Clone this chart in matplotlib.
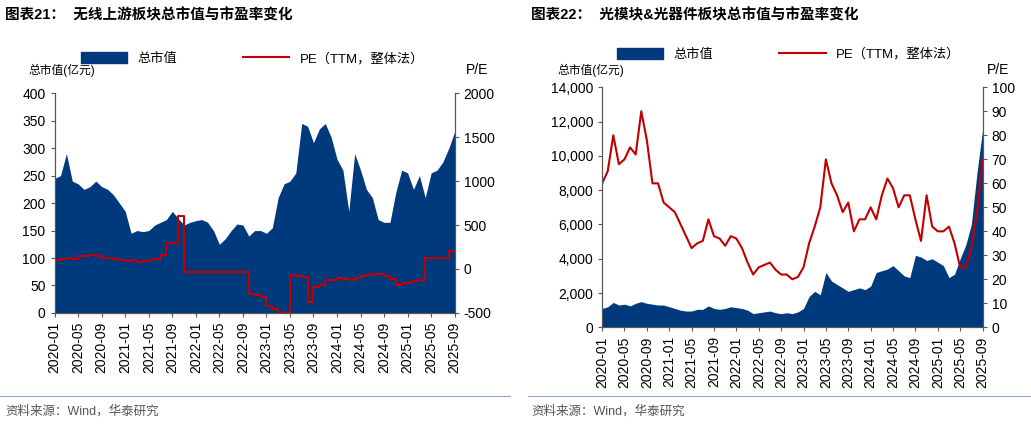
import matplotlib
matplotlib.use("Agg")
import matplotlib.pyplot as plt
import pandas as pd
import numpy as np
from matplotlib.patches import Patch
from matplotlib.lines import Line2D

plt.rcParams['font.family'] = ['Liberation Sans', 'Noto Sans CJK SC']

months = pd.date_range("2020-01-01", "2025-09-01", freq="MS")
tick_labels = [d.strftime("%Y-%m") for d in months[::4]]

left_cap = [245,250,290,240,235,225,230,240,230,225,215,200,
            185,145,150,148,150,160,165,170,185,172,160,165,
            168,170,165,150,125,135,150,162,160,140,150,150,
            145,155,210,235,240,255,345,340,310,335,345,320,
            280,260,185,290,260,225,210,170,165,165,220,260,
            255,225,250,210,255,260,275,300,330]
left_pe = [100,110,120,110,150,150,160,150,120,120,110,100,
           90,100,80,90,100,110,160,300,300,600,-30,-30,
           -30,-30,-30,-30,-30,-30,-30,-30,-30,-290,-300,-320,
           -420,-450,-500,-500,-70,-80,-90,-380,-200,-180,-130,-120,
           -100,-110,-120,-100,-80,-70,-60,-60,-80,-110,-180,-160,
           -150,-140,-120,120,120,120,130,200,200]

right_cap = [1100,1200,1450,1300,1350,1250,1400,1500,1400,1350,1300,1300,
             1200,1100,1000,950,950,1050,1050,1250,1100,1050,1100,1200,
             1150,1100,1000,800,850,900,950,850,800,850,800,900,
             1100,1800,2100,1900,3200,2700,2500,2300,2100,2200,2300,2200,
             2400,3200,3300,3400,3600,3300,3000,2900,4200,4100,3900,4000,
             3800,3600,2900,3100,4000,4800,6000,9000,11500]
right_pe = [60,65,80,68,70,75,72,90,78,60,60,52,
            50,48,43,38,33,35,36,45,38,37,34,38,
            37,33,27,22,25,26,27,24,22,22,20,21,
            25,35,42,50,70,60,55,48,52,40,45,45,
            50,45,55,62,58,50,55,55,45,36,55,42,
            40,40,42,35,25,25,33,48,70]

NAVY = '#003a7d'
RED = '#c00000'
x = np.arange(len(months))

fig = plt.figure(figsize=(10.31, 4.24), dpi=100)

def panel(rect, cap, pe, ylim, yticks, ylim2, yticks2, fmt, step, legpos, ylab_x, pe_x, lab_y):
    ax = fig.add_axes(rect)
    ax.fill_between(x, cap, 0, color=NAVY, lw=0)
    ax.set_xlim(0, len(x) - 1)
    ax.set_ylim(*ylim)
    ax.set_yticks(yticks)
    ax.set_yticklabels([fmt(v) for v in yticks], fontsize=10)
    ax.set_xticks(x[::4])
    ax.set_xticklabels(tick_labels, rotation=90, fontsize=10)
    ax2 = ax.twinx()
    if step:
        ax2.step(x, pe, where='post', color=RED, lw=1.5)
    else:
        ax2.plot(x, pe, color=RED, lw=1.5)
    ax2.set_ylim(*ylim2)
    ax2.set_yticks(yticks2)
    ax2.set_yticklabels([str(v) for v in yticks2], fontsize=10)
    for a in (ax, ax2):
        a.spines['top'].set_visible(False)
        for s in ('left', 'right', 'bottom'):
            a.spines[s].set_color('#555555')
        a.tick_params(length=3, color='#555555')
    fig.text(ylab_x, lab_y, '总市值(亿元)', fontsize=8.5, va='center')
    fig.text(pe_x, lab_y, 'P/E', fontsize=10, va='center', ha='center')
    h = [Patch(color=NAVY, label='总市值'), Line2D([], [], color=RED, lw=1.5, label='PE（TTM，整体法）')]
    fig.legend(handles=h, loc='center', bbox_to_anchor=legpos, ncol=2, frameon=False,
               fontsize=9.5, columnspacing=5, handlelength=3.5, handleheight=0.9)

panel([0.053, 0.262, 0.388, 0.518], left_cap, left_pe, (0, 400), list(range(0, 401, 50)),
      (-500, 2000), [-500, 0, 500, 1000, 1500, 2000], lambda v: str(v),
      True, (0.245, 0.862), 0.028, 0.463, 0.835)
panel([0.584, 0.228, 0.369, 0.566], right_cap, right_pe, (0, 14000), list(range(0, 14001, 2000)),
      (0, 100), list(range(0, 101, 10)), lambda v: f"{v:,}",
      False, (0.765, 0.872), 0.541, 0.968, 0.835)

fig.text(0.005, 0.965, '图表21：  无线上游板块总市值与市盈率变化', fontsize=10.5, fontweight='bold', va='center')
fig.text(0.515, 0.965, '图表22：  光模块&光器件板块总市值与市盈率变化', fontsize=10.5, fontweight='bold', va='center')
fig.text(0.005, 0.03, '资料来源：Wind，华泰研究', fontsize=9, color='#555555', va='center')
fig.text(0.515, 0.03, '资料来源：Wind，华泰研究', fontsize=9, color='#555555', va='center')
for x0, x1 in ((0.0, 0.495), (0.512, 1.0)):
    fig.add_artist(plt.Line2D([x0, x1], [0.065, 0.065], color='#8aa4c8', lw=0.8, transform=fig.transFigure))

fig.savefig('out.png', dpi=100)
